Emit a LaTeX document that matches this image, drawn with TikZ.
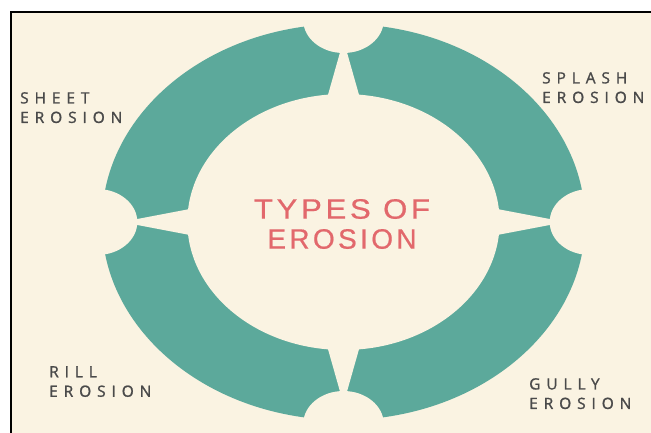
\documentclass[tikz,border=0pt]{standalone}
\usepackage{fontspec}
\newfontfamily\tagfont[LetterSpace=38, FakeBold=1.3]{Open Sans}
\newfontfamily\headfont[LetterSpace=12, FakeBold=0.6]{Liberation Sans}
\definecolor{paper}{HTML}{FAF3E2}
\definecolor{ringteal}{HTML}{5CA99B}
\definecolor{headred}{HTML}{E2686C}
\definecolor{taggray}{HTML}{4A4A4A}
\tikzstyle{erosiontag} = [anchor=north west, inner sep=0pt, align=left, text=taggray, font=\tagfont\fontsize{15.5}{19.5}\selectfont]
\tikzstyle{heading} = [inner sep=0pt, align=center, text=headred, font=\headfont\fontsize{28}{30}\selectfont]
\tikzstyle{cutout} = [fill=paper]

\begin{document}
\begin{tikzpicture}[x=1pt, y=-1pt]

\useasboundingbox (0,0) rectangle (651,433);
\fill[paper] (0,0) rectangle (651,433);

% Ring with four notched gaps
\begin{scope}[shift={(343.5,222)}, xscale=1.22]
  \fill[ringteal] (0,0) circle (198);
  \fill[cutout] (0,0) circle (128);
  \foreach \a in {0,90,180,270} {
    \fill[cutout] (\a:202) circle (33);
    \fill[cutout, rotate=\a] (175,-1.6) -- (175,1.6) -- (110,16.7) -- (110,-16.7) -- cycle;
  }
\end{scope}

% Frame
\fill[white] (0,0) rectangle (651,12) (0,0) rectangle (11,433);
\draw[line width=2pt] (11,433) -- (11,12) -- (651,12);

% Nodes
\node (title) [heading] at (342,224) {\scalebox{1.11}[1]{TYPES OF}\\EROSION};
\node (sheet) [erosiontag] at (20,92) {SHEET\\EROSION};
\node (splash) [erosiontag] at (542,72) {SPLASH\\EROSION};
\node (rill) [erosiontag] at (49,366) {RILL\\EROSION};
\node (gully) [erosiontag] at (529,378) {GULLY\\EROSION};

\end{tikzpicture}
\end{document}
